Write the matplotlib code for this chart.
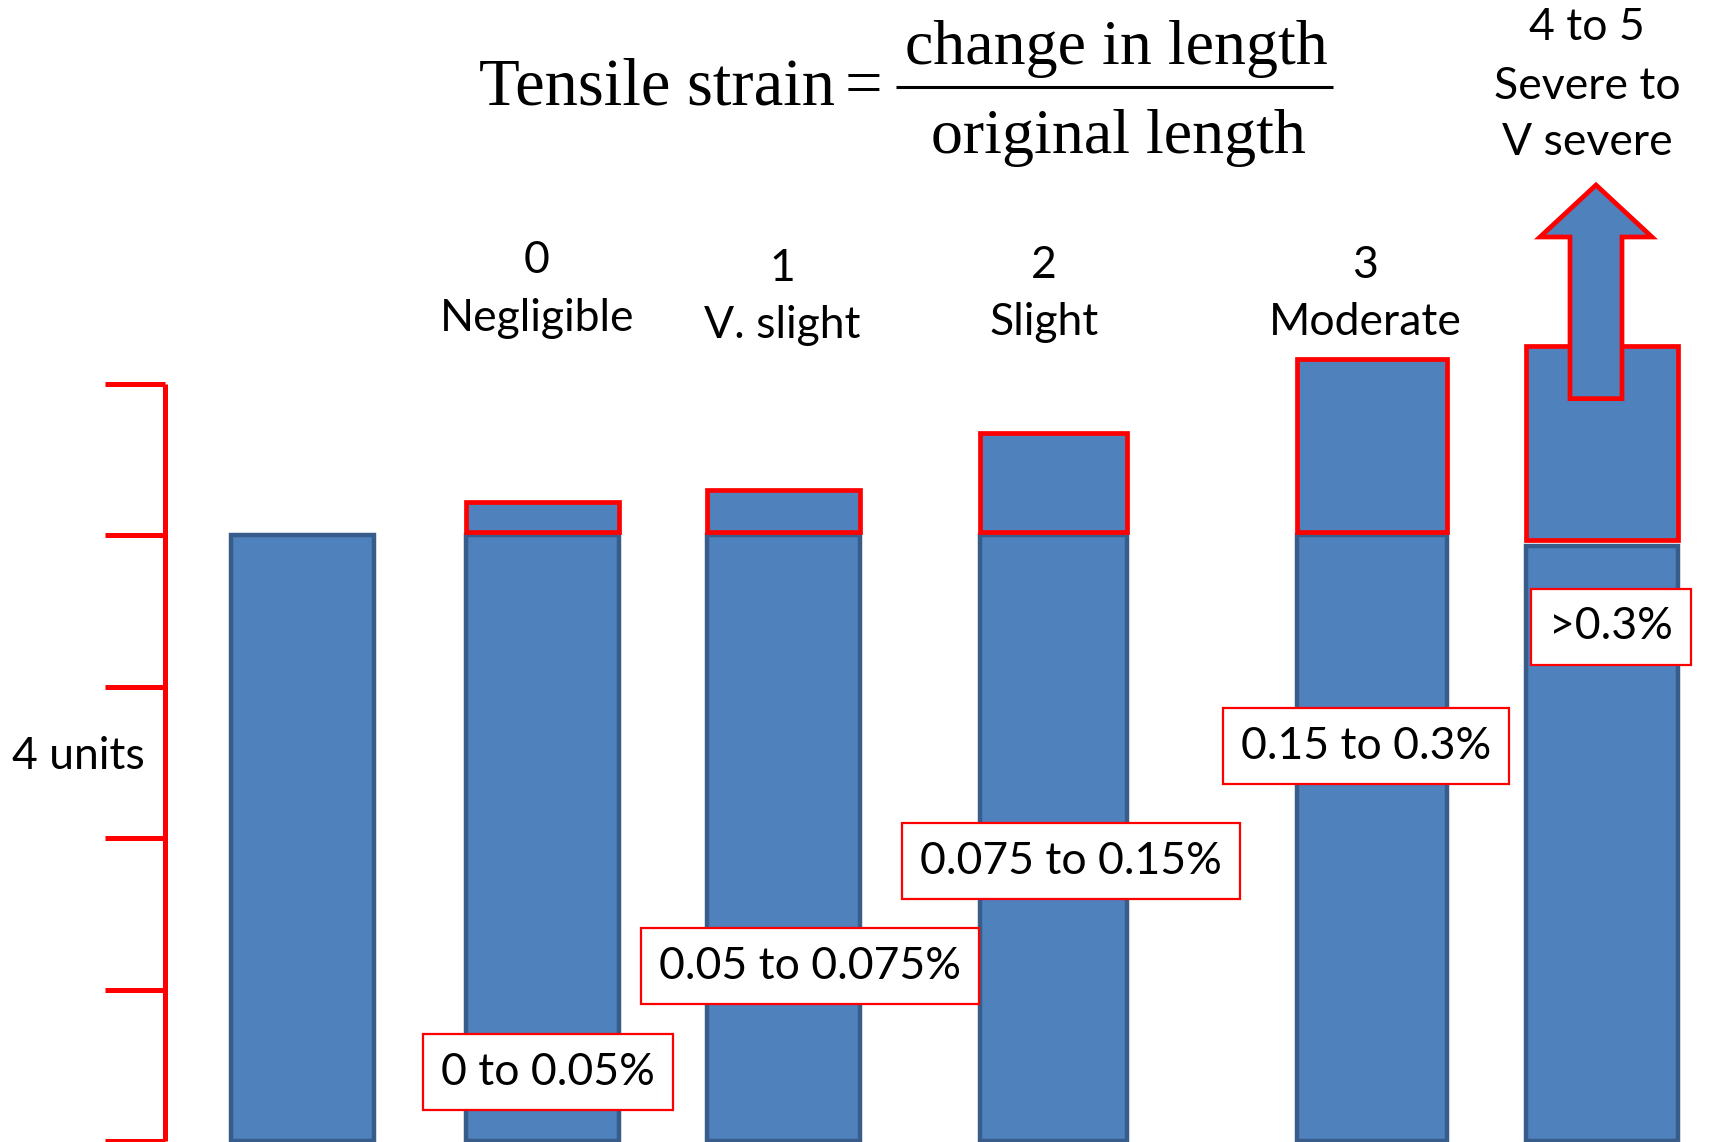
import matplotlib.pyplot as plt
from matplotlib.patches import FancyArrow

# data (heights in "units" of the red scale)
levels = ['0', '1', '2', '3', '4 to 5']
names = [['Negligible'], ['V. slight'], ['Slight'], ['Moderate'], ['Severe to', 'V severe']]
strain_ranges = ['0 to 0.05%', '0.05 to 0.075%', '0.075 to 0.15%', '0.15 to 0.3%', '>0.3%']
base_height = [4, 4, 4, 4, 4, 3.93]
ext_bottom = [4.02, 4.02, 4.02, 4.02, 3.97]
ext_top = [4.22, 4.30, 4.67, 5.16, 5.25]
scale_units = [0, 1, 2, 3, 4, 5]

# layout (x in pixels, y in units; 1 unit = 151.5 px)
bar_x = [302, 542, 783, 1053, 1372, 1602]
bar_w = [143, 153, 153, 147, 150, 152]
label_x = [537, 782, 1044, 1365, 1587]
label_y = [[5.81, 5.43], [5.76, 5.38], [5.78, 5.40], [5.78, 5.40], [7.35, 6.96, 6.59]]
box_x = [548, 810, 1071, 1366, 1611]
box_y = [0.455, 1.155, 1.848, 2.607, 3.393]

blue = '#4F81BD'
dark = '#385D8A'
red = '#FF0000'
sans = 'Lato'
serif = 'Liberation Serif'
fs = 32

fig = plt.figure(figsize=(17.1, 11.42), dpi=100)
ax = fig.add_axes([0, 0, 1, 1])
ax.set_xlim(0, 1710)
ax.set_ylim(-1 / 151.5, 1141 / 151.5)
ax.axis('off')

# base bars
ax.bar(bar_x, base_height, width=bar_w, color=blue, edgecolor=dark, linewidth=3.2, zorder=2)

# strain extension boxes
ext_h = [t - b for t, b in zip(ext_top, ext_bottom)]
ax.bar(bar_x[1:], ext_h, bottom=ext_bottom, width=bar_w[1:], color=blue,
       edgecolor=red, linewidth=3.4, zorder=3)

# arrow on the last bar
arrow = FancyArrow(1596, 4.90, 0, 1.41, width=52, head_width=112, head_length=0.343,
                   length_includes_head=True, facecolor=blue, edgecolor=red,
                   linewidth=3.4, zorder=4)
ax.add_patch(arrow)

# red scale bracket
ax.vlines(165, scale_units[0], scale_units[-1], color=red, linewidth=3.6, zorder=2)
ax.hlines(scale_units, 105, 165, color=red, linewidth=3.6, zorder=2)
ax.text(78, 2.54, '4 units', fontsize=fs, family=sans, ha='center', va='center')

# damage category labels
for x, lev, nm, ys in zip(label_x, levels, names, label_y):
    for line, y in zip([lev] + nm, ys):
        ax.text(x, y, line, fontsize=fs, family=sans, ha='center', va='center')

# strain range boxes
for x, y, s in zip(box_x, box_y, strain_ranges):
    ax.text(x, y, s, fontsize=fs, family=sans, ha='center', va='center', zorder=5,
            bbox=dict(boxstyle='square,pad=0.4', facecolor='white', edgecolor=red, linewidth=1.6))

# formula
ax.text(657, 6.84, 'Tensile strain', fontsize=48, family=serif, ha='center', va='baseline')
ax.text(863, 6.84, '=', fontsize=48, family=serif, ha='center', va='baseline')
ax.hlines(6.957, 896, 1333, color='black', linewidth=2.2)
ax.text(1116, 7.11, 'change in length', fontsize=46, family=serif, ha='center', va='baseline')
ax.text(1118, 6.52, 'original length', fontsize=46, family=serif, ha='center', va='baseline')

plt.savefig('out.png', dpi=100)
